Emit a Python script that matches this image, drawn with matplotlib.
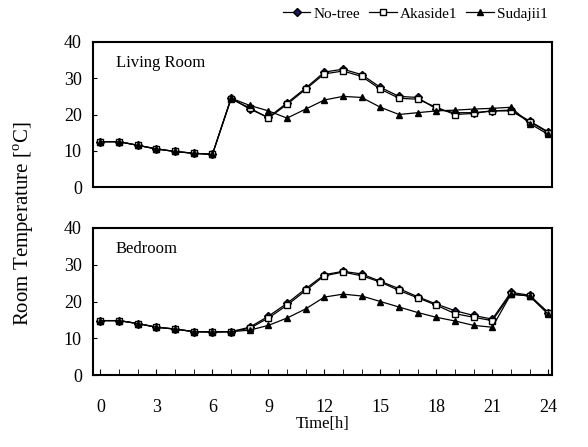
import matplotlib.pyplot as plt
import numpy as np

plt.rcParams['font.family'] = ['Liberation Serif', 'DejaVu Serif']
plt.rcParams['mathtext.fontset'] = 'custom'
plt.rcParams['mathtext.rm'] = 'Liberation Serif'

hours = list(range(25))
live_notree = [12.5, 12.5, 11.5, 10.5, 9.8, 9.3, 9.0, 24.5, 21.5, 19.2, 23.2, 27.3, 31.7, 32.5, 31.0, 27.5, 25.0, 24.7, 21.5, 20.5, 20.5, 21.0, 21.2, 18.2, 15.2]
live_akaside = [12.5, 12.5, 11.5, 10.5, 9.8, 9.3, 9.0, 24.3, 21.8, 19.0, 22.8, 27.0, 31.2, 32.0, 30.5, 27.0, 24.5, 24.2, 22.0, 20.0, 20.3, 21.0, 21.0, 18.0, 15.0]
live_sudajii = [12.5, 12.5, 11.5, 10.5, 9.8, 9.3, 9.0, 24.5, 22.5, 21.0, 19.0, 21.5, 24.0, 25.0, 24.7, 22.0, 20.0, 20.5, 21.0, 21.2, 21.5, 21.7, 22.0, 17.5, 14.5]
bed_notree = [14.8, 14.8, 14.0, 13.0, 12.5, 11.8, 11.7, 11.8, 13.0, 16.0, 19.5, 23.5, 27.3, 28.2, 27.5, 25.5, 23.5, 21.3, 19.3, 17.5, 16.2, 15.2, 22.5, 21.7, 17.0]
bed_akaside = [14.8, 14.8, 14.0, 13.0, 12.5, 11.8, 11.7, 11.8, 12.7, 15.5, 19.0, 23.0, 27.0, 28.0, 27.0, 25.3, 23.0, 21.0, 19.0, 16.7, 15.7, 14.8, 22.0, 21.5, 16.8]
bed_sudajii = [14.8, 14.8, 14.0, 13.0, 12.5, 11.8, 11.7, 11.8, 12.2, 13.5, 15.5, 18.0, 21.2, 22.0, 21.5, 20.0, 18.5, 17.0, 15.7, 14.7, 13.5, 13.0, 22.0, 21.5, 16.5]

fig = plt.figure(figsize=(5.88, 4.47), dpi=100)
ax1 = fig.add_axes([93/588, 1-187/447, 459/588, 145/447])
ax2 = fig.add_axes([93/588, 1-375/447, 459/588, 147/447])

for ax, a, b, c, label in [(ax1, live_notree, live_akaside, live_sudajii, 'Living Room'),
                           (ax2, bed_notree, bed_akaside, bed_sudajii, 'Bedroom')]:
    ax.plot(hours, a, color='black', lw=0.9, marker='D', ms=4, mfc='#1a1a5a', mec='black', label='No-tree')
    ax.plot(hours, b, color='black', lw=0.9, marker='s', ms=5, mfc='white', mec='black', label='Akaside1')
    ax.plot(hours, c, color='black', lw=0.9, marker='^', ms=5, mfc='black', mec='black', label='Sudajii1')
    ax.set_xlim(-0.4, 24.2)
    ax.set_ylim(0, 40)
    ax.set_yticks([0, 10, 20, 30, 40])
    ax.tick_params(axis='y', labelsize=13, direction='in', length=3, pad=8)
    ax.text(0.05, 0.83, label, transform=ax.transAxes, fontsize=12)
    for s in ax.spines.values():
        s.set_linewidth(1.5)

ax1.set_xticks([])
ax2.set_xticks(range(0, 25, 3))
ax2.set_xticks(range(25), minor=True)
ax2.tick_params(axis='x', which='both', direction='in', length=4, labelsize=13, pad=17)
ax2.set_xlabel('Time[h]', fontsize=12, labelpad=0)

fig.text(0.04, 0.5, 'Room Temperature [$^{\\rm o}$C]', rotation=90, va='center', ha='center', fontsize=15)
h, l = ax1.get_legend_handles_labels()
fig.legend(h, l, loc='upper right', bbox_to_anchor=(0.955, 1.015), ncol=3, frameon=False,
           fontsize=11, handlelength=1.8, columnspacing=0.6, handletextpad=0.2)

fig.savefig('out.png')
